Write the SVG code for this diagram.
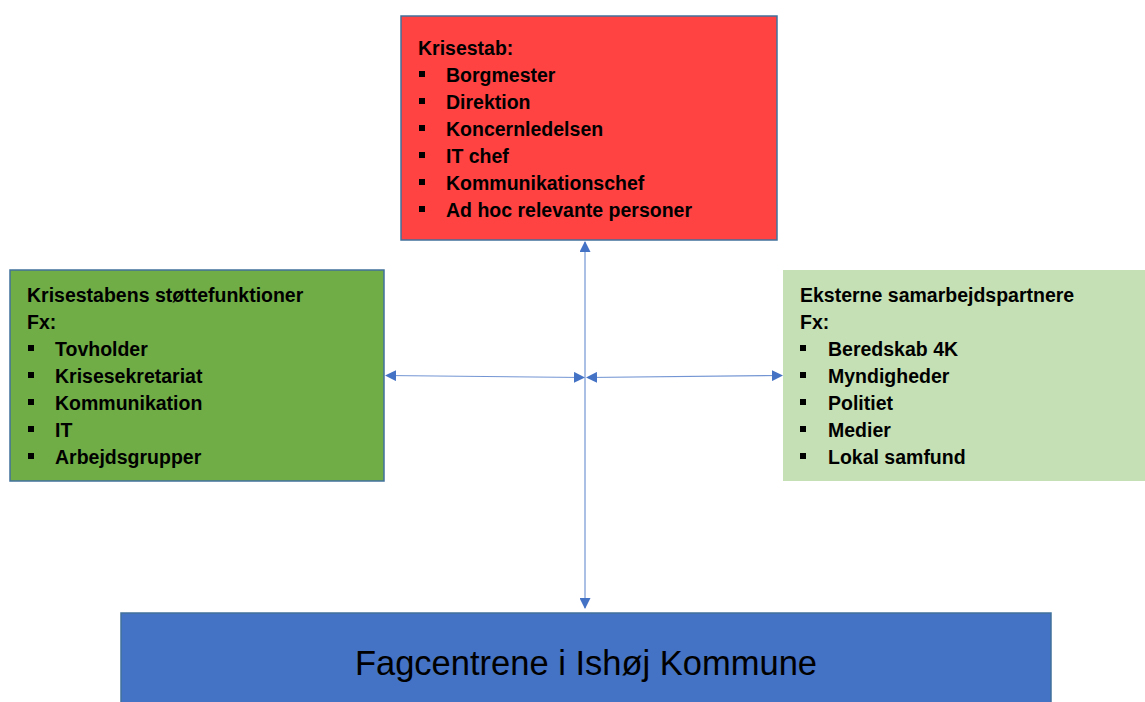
<svg xmlns="http://www.w3.org/2000/svg" width="1145" height="702" viewBox="0 0 1145 702">
<defs>
<style>
.box{stroke:#41719C;stroke-width:1.5}
.t{font-family:"Liberation Sans",Arial,sans-serif;font-weight:bold;font-size:19.5px;fill:#000}
.big{font-family:"Liberation Sans",Arial,sans-serif;font-size:34.5px;fill:#000}
.b{fill:#000}
.conn{stroke:#4472C4;stroke-width:1.2;fill:none;stroke-opacity:0.75}
</style>
<marker id="ah" markerWidth="11" markerHeight="11" refX="10" refY="5.5" orient="auto-start-reverse" markerUnits="userSpaceOnUse">
<path d="M0,0 L11,5.5 L0,11 Z" fill="#4472C4"/>
</marker>
</defs>
<rect width="1145" height="702" fill="#fff"/>
<g id="connectors">
<line class="conn" x1="585" y1="242" x2="585" y2="608" marker-start="url(#ah)" marker-end="url(#ah)"/>
<line class="conn" x1="386" y1="375.5" x2="584" y2="377.5" marker-start="url(#ah)" marker-end="url(#ah)"/>
<line class="conn" x1="587" y1="377.5" x2="782" y2="375.5" marker-start="url(#ah)" marker-end="url(#ah)"/>
</g>
<g id="krisestab">
<rect class="box" x="401" y="16" width="376" height="224" fill="#FF4343"/>
<text class="t" x="418" y="55">Krisestab:</text>
<rect class="b" x="419" y="71" width="6" height="6"/><text class="t" x="446" y="82">Borgmester</text>
<rect class="b" x="419" y="98" width="6" height="6"/><text class="t" x="446" y="109">Direktion</text>
<rect class="b" x="419" y="125" width="6" height="6"/><text class="t" x="446" y="136">Koncernledelsen</text>
<rect class="b" x="419" y="152" width="6" height="6"/><text class="t" x="446" y="163">IT chef</text>
<rect class="b" x="419" y="179" width="6" height="6"/><text class="t" x="446" y="190">Kommunikationschef</text>
<rect class="b" x="419" y="206" width="6" height="6"/><text class="t" x="446" y="217">Ad hoc relevante personer</text>
</g>
<g id="stoette">
<rect class="box" x="10" y="270" width="374" height="211" fill="#70AD47"/>
<text class="t" x="27" y="302">Krisestabens støttefunktioner</text>
<text class="t" x="27" y="329">Fx:</text>
<rect class="b" x="28" y="345" width="6" height="6"/><text class="t" x="55" y="356">Tovholder</text>
<rect class="b" x="28" y="372" width="6" height="6"/><text class="t" x="55" y="383">Krisesekretariat</text>
<rect class="b" x="28" y="399" width="6" height="6"/><text class="t" x="55" y="410">Kommunikation</text>
<rect class="b" x="28" y="426" width="6" height="6"/><text class="t" x="55" y="437">IT</text>
<rect class="b" x="28" y="453" width="6" height="6"/><text class="t" x="55" y="464">Arbejdsgrupper</text>
</g>
<g id="eksterne">
<rect x="783" y="270" width="364" height="211" fill="#C5E0B4"/>
<text class="t" x="800" y="302">Eksterne samarbejdspartnere</text>
<text class="t" x="800" y="329">Fx:</text>
<rect class="b" x="800" y="345" width="6" height="6"/><text class="t" x="828" y="356">Beredskab 4K</text>
<rect class="b" x="800" y="372" width="6" height="6"/><text class="t" x="828" y="383">Myndigheder</text>
<rect class="b" x="800" y="399" width="6" height="6"/><text class="t" x="828" y="410">Politiet</text>
<rect class="b" x="800" y="426" width="6" height="6"/><text class="t" x="828" y="437">Medier</text>
<rect class="b" x="800" y="453" width="6" height="6"/><text class="t" x="828" y="464">Lokal samfund</text>
</g>
<g id="fagcentre">
<rect class="box" x="121" y="613" width="930" height="95" fill="#4472C4"/>
<text class="big" x="586" y="675" text-anchor="middle">Fagcentrene i Ishøj Kommune</text>
</g>
</svg>
